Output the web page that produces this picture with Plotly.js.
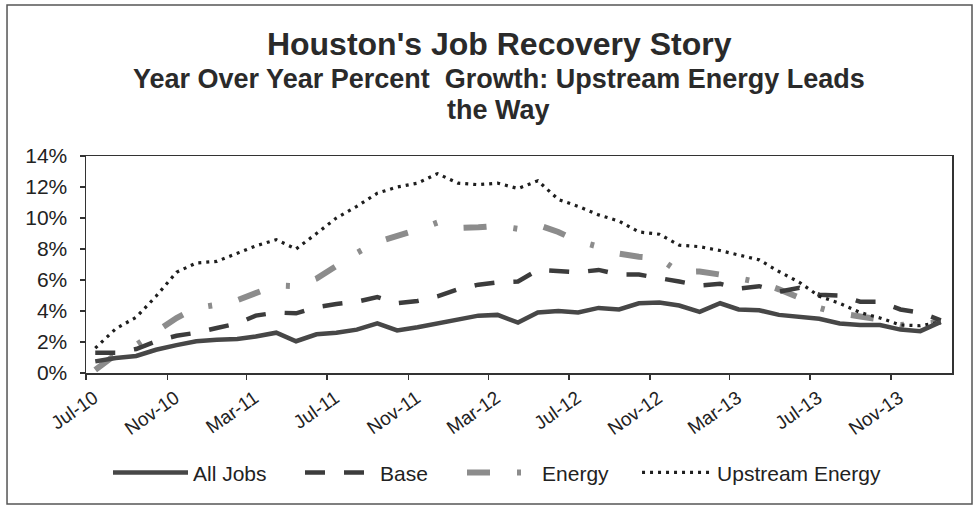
<!DOCTYPE html>
<html>
<head>
<meta charset="utf-8">
<script src="https://cdn.plot.ly/plotly-3.0.1.min.js"></script>
<style>
  html, body { margin: 0; padding: 0; background: #ffffff; }
  #chart { width: 975px; height: 508px; }
</style>
</head>
<body>
<div id="chart"></div>
<script>
// Months (each value is plotted mid-month on a date axis)
const months = [
  '2010-07','2010-08','2010-09','2010-10','2010-11','2010-12',
  '2011-01','2011-02','2011-03','2011-04','2011-05','2011-06',
  '2011-07','2011-08','2011-09','2011-10','2011-11','2011-12',
  '2012-01','2012-02','2012-03','2012-04','2012-05','2012-06',
  '2012-07','2012-08','2012-09','2012-10','2012-11','2012-12',
  '2013-01','2013-02','2013-03','2013-04','2013-05','2013-06',
  '2013-07','2013-08','2013-09','2013-10','2013-11','2013-12',
  '2014-01'
];

// Year-over-year percent growth
const allJobs = [
  0.75,0.97,1.1,1.5,1.8,2.05,2.15,2.2,2.35,2.6,2.05,2.5,2.6,2.8,3.2,
  2.75,2.95,3.2,3.45,3.7,3.75,3.25,3.9,4.0,3.9,4.2,4.1,4.5,4.55,
  4.35,3.95,4.5,4.1,4.05,3.75,3.6,3.5,3.2,3.1,3.1,2.8,2.7,3.3
];
const base = [
  1.3,1.3,1.55,2.05,2.4,2.6,2.9,3.2,3.7,3.9,3.85,4.25,4.45,4.6,4.9,
  4.5,4.65,4.95,5.4,5.7,5.85,5.9,6.65,6.6,6.5,6.65,6.35,6.35,6.15,
  5.9,5.65,5.75,5.45,5.6,5.25,5.5,5.05,5.0,4.6,4.6,4.1,3.9,3.4
];
const energy = [
  0.2,1.2,1.8,2.7,3.55,4.2,4.4,4.7,5.15,5.65,5.6,6.1,6.9,7.75,8.45,
  8.8,9.25,9.7,9.35,9.4,9.5,9.3,9.55,9.1,8.5,8.15,7.7,7.5,7.4,
  6.5,6.55,6.35,6.1,5.85,5.4,4.85,4.2,3.85,3.65,3.45,3.1,3.15,3.3
];
const upstream = [
  1.6,2.85,3.6,4.95,6.5,7.1,7.2,7.7,8.2,8.6,8.0,9.0,10.0,10.75,11.6,
  12.0,12.25,12.86,12.25,12.15,12.25,11.9,12.4,11.2,10.75,10.2,9.8,9.1,8.95,
  8.25,8.15,7.9,7.6,7.3,6.55,5.85,4.95,4.5,3.9,3.55,3.1,3.05,3.3
];

// Axis tick labels
const tickDates = ['2010-07-01','2010-11-01','2011-03-01','2011-07-01','2011-11-01','2012-03-01',
                   '2012-07-01','2012-11-01','2013-03-01','2013-07-01','2013-11-01'];
const tickLabels = ['Jul-10','Nov-10','Mar-11','Jul-11','Nov-11','Mar-12',
                    'Jul-12','Nov-12','Mar-13','Jul-13','Nov-13'];

const titleText = "Houston's Job Recovery Story";
const subtitleLines = ['Year Over Year Percent&nbsp; Growth: Upstream Energy Leads', 'the Way'];

const x = months.map(m => m + '-15');
const FONT = 'Liberation Sans, Arial, Helvetica, sans-serif';

const traces = [
  { name: 'Energy', x: x, y: energy, type: 'scatter', mode: 'lines', legend: 'legend3',
    line: { color: '#8c8c8c', width: 6, dash: '23px,27px,4px,27px' } },
  { name: 'Base', x: x, y: base, type: 'scatter', mode: 'lines', legend: 'legend2',
    line: { color: '#3c3c3c', width: 4.5, dash: '20px,19px' } },
  { name: 'Upstream Energy', x: x, y: upstream, type: 'scatter', mode: 'lines', legend: 'legend4',
    line: { color: '#1e1e1e', width: 3.2, dash: '3px,5px' } },
  { name: 'All Jobs', x: x, y: allJobs, type: 'scatter', mode: 'lines', legend: 'legend',
    line: { color: '#474747', width: 4.5 } }
];

const subCenters = [1.355, 1.21];
const annotations = subtitleLines.map((t, i) => ({
  text: '<b>' + t + '</b>', xref: 'paper', yref: 'paper',
  x: 0.4769, y: subCenters[i], xanchor: 'center', yanchor: 'middle',
  showarrow: false, font: { family: FONT, size: 27, color: '#2a2a2a' }
}));

function legendBox(xPos, itemW) {
  return {
    orientation: 'h', x: xPos, xanchor: 'left', y: -0.46, yanchor: 'middle',
    font: { family: FONT, size: 21, color: '#222222' },
    itemwidth: itemW,
    bgcolor: 'rgba(0,0,0,0)', itemclick: false, itemdoubleclick: false
  };
}

const layout = {
  width: 975, height: 508,
  margin: { l: 86, r: 23, t: 156, b: 135, autoexpand: false },
  paper_bgcolor: '#ffffff', plot_bgcolor: '#ffffff',
  font: { family: FONT, color: '#222222' },
  title: {
    text: '<b>' + titleText + '</b>',
    font: { family: FONT, size: 32, color: '#2a2a2a' },
    x: 0.512, xref: 'container', xanchor: 'center',
    y: 0.913, yref: 'container', yanchor: 'middle'
  },
  annotations: annotations,
  xaxis: {
    type: 'date',
    range: ['2010-07-01', '2014-02-01'],
    tickmode: 'array', tickvals: tickDates, ticktext: tickLabels,
    tickangle: -35,
    tickfont: { family: FONT, size: 19, color: '#222222' },
    ticks: 'outside', ticklen: 5, tickwidth: 1.5, tickcolor: '#333333',
    ticklabelshift: 8, ticklabelstandoff: 0,
    showline: true, mirror: true, linecolor: '#333333', linewidth: 1.5,
    showgrid: false, zeroline: false, fixedrange: true
  },
  yaxis: {
    range: [0, 14], tickmode: 'linear', tick0: 0, dtick: 2,
    ticksuffix: '%',
    tickfont: { family: FONT, size: 21, color: '#222222' },
    ticks: 'outside', ticklen: 5, tickwidth: 1.5, tickcolor: '#333333',
    ticklabelstandoff: 8,
    showline: true, mirror: true, linecolor: '#333333', linewidth: 1.5,
    showgrid: false, zeroline: false, fixedrange: true
  },
  showlegend: true,
  legend: legendBox(0.0254, 75),
  legend2: legendBox(0.2471, 70),
  legend3: legendBox(0.4342, 70),
  legend4: legendBox(0.6363, 70),
  shapes: [
    { type: 'rect', xref: 'paper', yref: 'paper',
      x0: -0.0912, x1: 1.0231, y0: -0.6037, y1: 1.6959,
      line: { color: '#555555', width: 1.5 }, fillcolor: 'rgba(0,0,0,0)', layer: 'below' }
  ]
};

Plotly.newPlot('chart', traces, layout, { displayModeBar: false, staticPlot: true });
</script>
</body>
</html>
